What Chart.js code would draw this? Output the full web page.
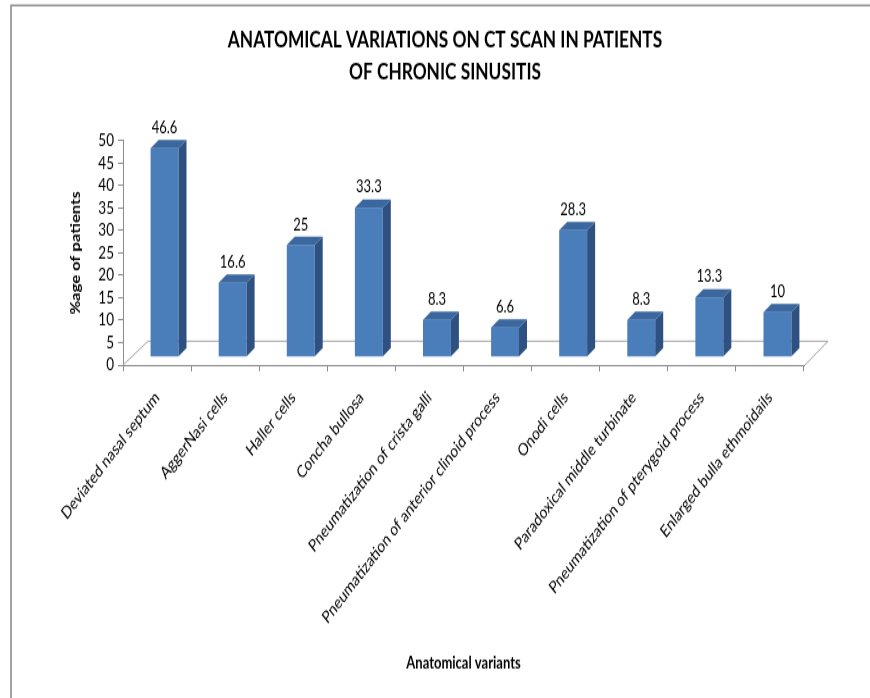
<!DOCTYPE html>
<html lang="en">
<head>
<meta charset="UTF-8">
<title>Anatomical variations on CT scan</title>
<script src="https://cdn.jsdelivr.net/npm/chart.js"></script>
<style>
  html, body { margin: 0; padding: 0; background: #fff; }
  #chart { display: block; width: 870px; height: 698px; }
</style>
</head>
<body>
<!-- drawn at 870x545 and stretched to 698 tall, like the scanned figure -->
<canvas id="chart" width="870" height="545" style="width:870px;height:698px"></canvas>
<script>
const titleLines = ['ANATOMICAL VARIATIONS ON CT SCAN IN PATIENTS', 'OF CHRONIC SINUSITIS'];
const categories = [
  'Deviated nasal septum',
  'AggerNasi cells',
  'Haller cells',
  'Concha bullosa',
  'Pneumatization of crista galli',
  'Pneumatization of anterior clinoid process',
  'Onodi cells',
  'Paradoxical middle turbinate',
  'Pneumatization of pterygoid process',
  'Enlarged bulla ethmoidails'
];
const values = [46.6, 16.6, 25, 33.3, 8.3, 6.6, 28.3, 8.3, 13.3, 10];
const yMin = 0, yMax = 50, yStep = 5;
const xTitle = 'Anatomical variants';
const yTitle = '%age of patients';

const FONT = 'Lato, "Open Sans", sans-serif';

const frame = {
  id: 'frame',
  beforeDraw(chart) {
    const ctx = chart.ctx;
    ctx.save();
    ctx.fillStyle = '#fff';
    ctx.fillRect(0, 0, chart.width, chart.height);
    ctx.strokeStyle = '#8c8c8c';
    ctx.lineWidth = 1.6;
    ctx.beginPath();
    ctx.moveTo(11, chart.height);
    ctx.lineTo(11, 4.3);
    ctx.lineTo(chart.width, 4.3);
    ctx.stroke();
    ctx.restore();
  }
};

// 3D floor behind the bars
const floor = {
  id: 'floor',
  beforeDatasetsDraw(chart) {
    const {ctx, chartArea: a} = chart;
    const backY = a.bottom - 18.6;
    ctx.save();
    ctx.strokeStyle = '#a6a6a6';
    ctx.lineWidth = 1;
    ctx.beginPath();
    ctx.moveTo(a.left, a.bottom);
    ctx.lineTo(a.left + 25, backY);
    ctx.lineTo(a.right + 24, backY);
    ctx.lineTo(a.right + 1, a.bottom);
    ctx.stroke();
    ctx.restore();
  }
};

// draw each bar as a box with a top and a side face
const bars3d = {
  id: 'bars3d',
  afterDatasetsDraw(chart) {
    const ctx = chart.ctx;
    const meta = chart.getDatasetMeta(0);
    const dx = 8, dy = -6.5, shiftX = 7.5, shiftY = -6.25;
    ctx.save();
    meta.data.forEach((bar, i) => {
      const p = bar.getProps(['x', 'y', 'base', 'width'], true);
      const l = p.x - p.width / 2 + shiftX, r = p.x + p.width / 2 + shiftX;
      const t = p.y + shiftY, b = p.base + shiftY;
      ctx.fillStyle = '#4a7ebb';
      ctx.fillRect(l, t, r - l, b - t);
      ctx.fillStyle = '#2f5181';
      ctx.beginPath();
      ctx.moveTo(r, b); ctx.lineTo(r, t); ctx.lineTo(r + dx, t + dy); ctx.lineTo(r + dx, b + dy);
      ctx.closePath(); ctx.fill();
      ctx.fillStyle = '#3b679f';
      ctx.beginPath();
      ctx.moveTo(l, t); ctx.lineTo(l + dx, t + dy); ctx.lineTo(r + dx, t + dy); ctx.lineTo(r, t);
      ctx.closePath(); ctx.fill();
      ctx.fillStyle = '#000';
      ctx.font = '13px ' + FONT;
      ctx.textAlign = 'center';
      ctx.textBaseline = 'middle';
      ctx.fillText(String(values[i]), (l + r) / 2, t + dy - 9.4);
    });
    ctx.restore();
  }
};

new Chart(document.getElementById('chart'), {
  type: 'bar',
  data: {
    labels: categories,
    datasets: [{
      data: values,
      backgroundColor: 'rgba(0,0,0,0)',
      barPercentage: 0.41,
      categoryPercentage: 1
    }]
  },
  options: {
    responsive: false,
    animation: false,
    layout: { padding: { left: 86, right: 66, top: 0, bottom: 19.2 } },
    plugins: {
      legend: { display: false },
      tooltip: { enabled: false },
      title: {
        display: true,
        text: titleLines,
        color: '#000',
        font: { family: FONT, size: 17.3, weight: 'bold', lineHeight: 1.445 },
        padding: { top: 19, bottom: 41 }
      }
    },
    scales: {
      x: {
        offset: true,
        afterFit(s) { s.height = 240.8; s.paddingLeft = 0; s.paddingRight = 0; },
        border: { color: '#8c8c8c', width: 1 },
        grid: { offset: true, drawOnChartArea: false, drawTicks: true, tickLength: 5, color: '#8c8c8c' },
        ticks: { autoSkip: false, minRotation: 45.5, maxRotation: 45.5, padding: 12.5, color: '#000', font: { family: FONT, size: 13.4 } },
        title: { display: true, text: xTitle, color: '#000', font: { family: FONT, size: 13, weight: 'bold' }, padding: 0 }
      },
      y: {
        min: yMin,
        max: yMax,
        afterFit(s) { s.width = 37; },
        border: { color: '#8c8c8c', width: 1 },
        grid: { drawOnChartArea: false, drawTicks: true, tickLength: 5, color: '#8c8c8c' },
        ticks: { stepSize: yStep, autoSkip: false, padding: 4, color: '#000', font: { family: FONT, size: 13.5 } },
        title: { display: true, text: yTitle, color: '#000', font: { family: FONT, size: 13, weight: 'bold' }, padding: { top: -17.8, bottom: 0 } }
      }
    }
  },
  plugins: [frame, floor, bars3d]
});
</script>
</body>
</html>
